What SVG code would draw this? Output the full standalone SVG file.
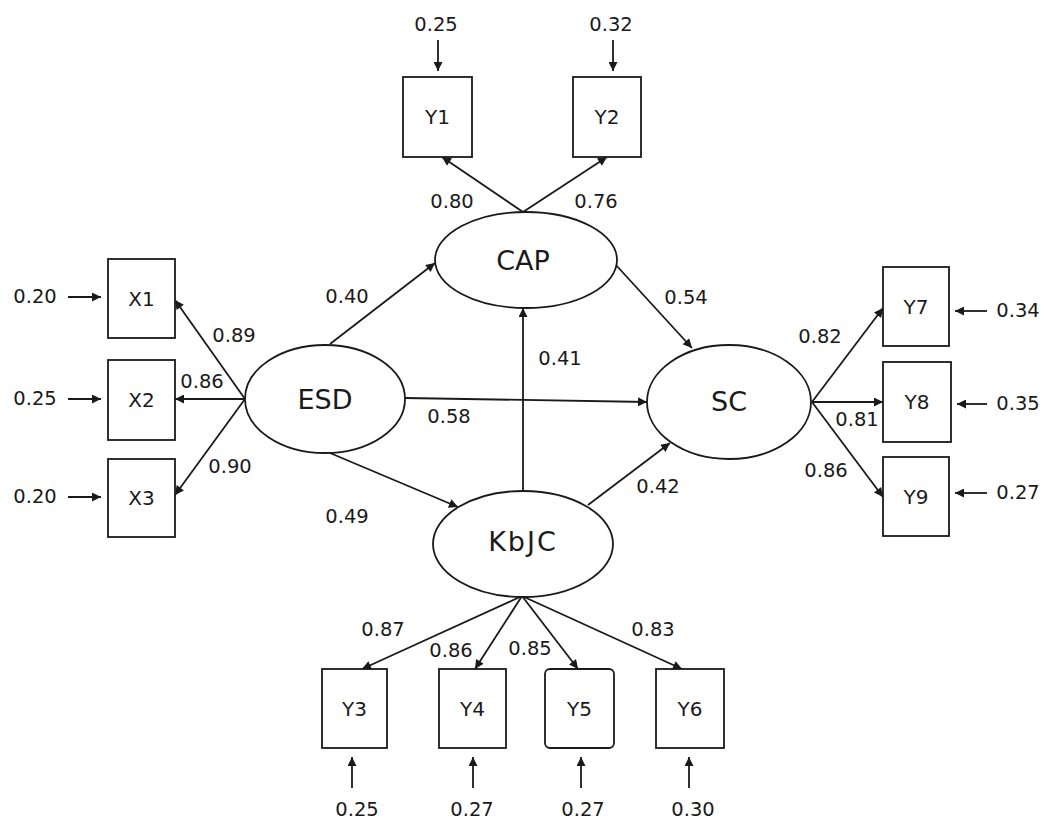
<svg xmlns="http://www.w3.org/2000/svg" width="1045" height="820" viewBox="0 0 1045 820">
<defs>
<marker id="ah" viewBox="0 0 10 10" refX="10" refY="5" markerWidth="10" markerHeight="9" markerUnits="userSpaceOnUse" orient="auto">
<path d="M0,0 L10,5 L0,10 z" fill="#1a1a1a"/>
</marker>
<style>
.box{fill:#fff;stroke:#1a1a1a;stroke-width:1.8}
.lat{fill:#fff;stroke:#1a1a1a;stroke-width:1.8}
.bl{font-family:"DejaVu Sans","Liberation Sans",sans-serif;font-size:20px;fill:#1a1a1a;text-anchor:middle}
.ll{font-family:"DejaVu Sans","Liberation Sans",sans-serif;font-size:27px;fill:#1a1a1a;text-anchor:middle}
.num{font-family:"DejaVu Sans","Liberation Sans",sans-serif;font-size:19.5px;fill:#1a1a1a;text-anchor:middle}
.c{stroke:#1a1a1a;stroke-width:1.8;fill:none;marker-end:url(#ah)}
</style>
</defs>
<rect width="1045" height="820" fill="#fff"/>
<g id="connectors">
<path class="c" d="M523,212 L442,157"/>
<path class="c" d="M523,212 L607,157"/>
<path class="c" d="M438,40 L438,71"/>
<path class="c" d="M613,40 L613,71"/>
<path class="c" d="M245,399 L175,300"/>
<path class="c" d="M245,399 L175,399"/>
<path class="c" d="M245,399 L175,495"/>
<path class="c" d="M68,297 L101,297"/>
<path class="c" d="M68,399 L101,399"/>
<path class="c" d="M68,497 L101,497"/>
<path class="c" d="M330,344 L435,263"/>
<path class="c" d="M330,453 L458,507"/>
<path class="c" d="M405,398 L647,402"/>
<path class="c" d="M523,490 L523,308"/>
<path class="c" d="M615,264 L692,348"/>
<path class="c" d="M588,505 L670,443"/>
<path class="c" d="M812,402 L883,308"/>
<path class="c" d="M812,402 L883,402"/>
<path class="c" d="M812,402 L883,497"/>
<path class="c" d="M987,311 L955,311"/>
<path class="c" d="M987,404 L957,404"/>
<path class="c" d="M987,493 L955,493"/>
<path class="c" d="M522,596 L362,669"/>
<path class="c" d="M522,596 L475,669"/>
<path class="c" d="M522,596 L578,669"/>
<path class="c" d="M522,596 L682,669"/>
<path class="c" d="M352,788 L352,757"/>
<path class="c" d="M473,788 L473,757"/>
<path class="c" d="M581,788 L581,757"/>
<path class="c" d="M689,788 L689,757"/>
</g>
<g id="labels">
<text class="num" x="436" y="31">0.25</text>
<text class="num" x="611" y="31">0.32</text>
<text class="num" x="452" y="208">0.80</text>
<text class="num" x="596" y="208">0.76</text>
<text class="num" x="35" y="303">0.20</text>
<text class="num" x="35" y="405">0.25</text>
<text class="num" x="35" y="503">0.20</text>
<text class="num" x="234" y="342">0.89</text>
<text class="num" x="202" y="388">0.86</text>
<text class="num" x="230" y="473">0.90</text>
<text class="num" x="347" y="303">0.40</text>
<text class="num" x="347" y="523">0.49</text>
<text class="num" x="560" y="365">0.41</text>
<text class="num" x="449" y="423">0.58</text>
<text class="num" x="686" y="304">0.54</text>
<text class="num" x="658" y="493">0.42</text>
<text class="num" x="820" y="343">0.82</text>
<text class="num" x="857" y="426">0.81</text>
<text class="num" x="826" y="477">0.86</text>
<text class="num" x="1018" y="317">0.34</text>
<text class="num" x="1018" y="410">0.35</text>
<text class="num" x="1018" y="499">0.27</text>
<text class="num" x="383" y="636">0.87</text>
<text class="num" x="451" y="657">0.86</text>
<text class="num" x="530" y="655">0.85</text>
<text class="num" x="653" y="636">0.83</text>
<text class="num" x="357" y="816">0.25</text>
<text class="num" x="472" y="816">0.27</text>
<text class="num" x="583" y="816">0.27</text>
<text class="num" x="693" y="816">0.30</text>
</g>
<g id="Y1"><rect class="box" x="403" y="77" width="69" height="80"/><text class="bl" x="437.5" y="124">Y1</text></g>
<g id="Y2"><rect class="box" x="573" y="77" width="68" height="80"/><text class="bl" x="607" y="124">Y2</text></g>
<g id="X1"><rect class="box" x="108" y="259" width="67" height="79"/><text class="bl" x="141.5" y="305.5">X1</text></g>
<g id="X2"><rect class="box" x="108" y="360" width="67" height="80"/><text class="bl" x="141.5" y="407">X2</text></g>
<g id="X3"><rect class="box" x="108" y="459" width="67" height="78"/><text class="bl" x="141.5" y="505">X3</text></g>
<g id="Y7"><rect class="box" x="883" y="267" width="66" height="79"/><text class="bl" x="916" y="313.5">Y7</text></g>
<g id="Y8"><rect class="box" x="883" y="362" width="68" height="80"/><text class="bl" x="917" y="409">Y8</text></g>
<g id="Y9"><rect class="box" x="883" y="457" width="66" height="79"/><text class="bl" x="916" y="503.5">Y9</text></g>
<g id="Y3"><rect class="box" x="322" y="669" width="65" height="79"/><text class="bl" x="354.5" y="715.5">Y3</text></g>
<g id="Y4"><rect class="box" x="439" y="669" width="67" height="79"/><text class="bl" x="472.5" y="715.5">Y4</text></g>
<g id="Y5"><rect class="box" x="545" y="669" width="69" height="79" rx="5"/><text class="bl" x="579.5" y="715.5">Y5</text></g>
<g id="Y6"><rect class="box" x="656" y="669" width="68" height="79"/><text class="bl" x="690" y="715.5">Y6</text></g>
<g id="CAP"><ellipse class="lat" cx="526" cy="260" rx="91" ry="48"/><text class="ll" x="523" y="270">CAP</text></g>
<g id="ESD"><ellipse class="lat" cx="325" cy="399" rx="80" ry="54"/><text class="ll" x="325" y="408.5">ESD</text></g>
<g id="SC"><ellipse class="lat" cx="729" cy="402" rx="82" ry="57"/><text class="ll" x="729" y="410.5">SC</text></g>
<g id="KbJC"><ellipse class="lat" cx="523" cy="544" rx="90" ry="53"/><text class="ll" x="523" y="550.5" letter-spacing="2">KbJC</text></g>
</svg>
